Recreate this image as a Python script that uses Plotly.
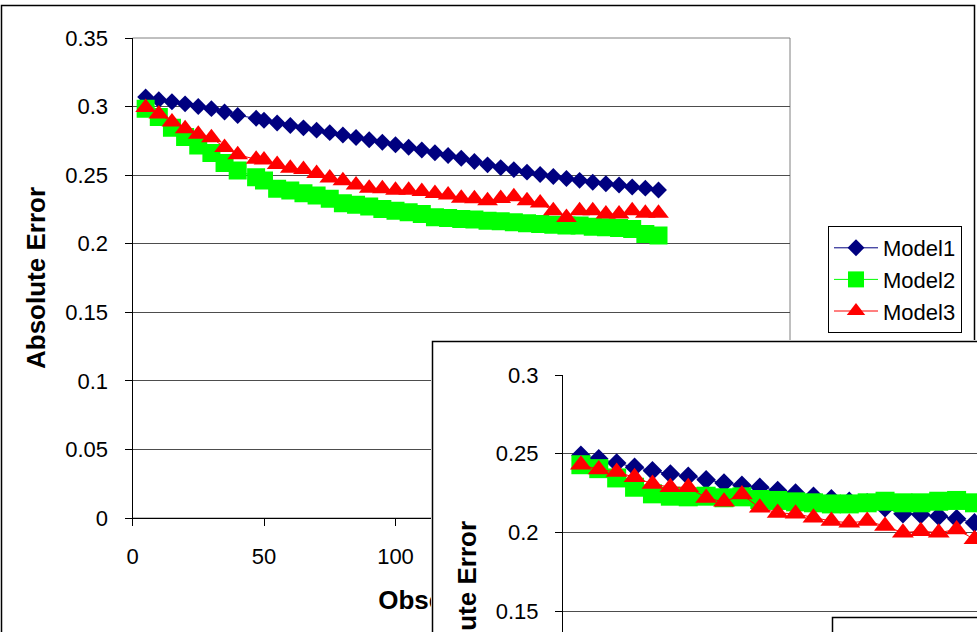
import plotly.graph_objects as go

W, H = 977, 632
FONT = "Liberation Sans, Arial, sans-serif"

# ---------------- data ----------------
series_names = ["Model1", "Model2", "Model3"]

obs_chart1 = [5, 10, 15, 20, 25, 30, 35, 40, 47, 50, 55, 60, 65, 70, 75, 80, 85, 90, 95, 100,
              105, 110, 115, 120, 125, 130, 135, 140, 145, 150, 155, 160, 165, 170, 175, 180,
              185, 190, 195, 200]
model1_chart1 = [0.307, 0.305, 0.3035, 0.302, 0.300, 0.2985, 0.296, 0.2935, 0.2915, 0.290,
                 0.288, 0.2862, 0.2845, 0.2828, 0.281, 0.2793, 0.2775, 0.2758, 0.274, 0.2722,
                 0.2703, 0.2683, 0.2663, 0.2643, 0.2623, 0.2600, 0.2575, 0.2555, 0.254, 0.2522,
                 0.2505, 0.249, 0.2475, 0.2462, 0.2448, 0.2437, 0.2428, 0.2414, 0.2405, 0.2392]
model2_chart1 = [0.2985, 0.2924, 0.2846, 0.2778, 0.2717, 0.2661, 0.2588, 0.2534, 0.2485, 0.2461,
                 0.240, 0.2388, 0.2368, 0.2351, 0.2327, 0.2295, 0.2285, 0.2271, 0.2254, 0.2241,
                 0.2229, 0.2217, 0.2193, 0.2188, 0.218, 0.2176, 0.2168, 0.2163, 0.2156, 0.2149,
                 0.2144, 0.2139, 0.2132, 0.2132, 0.2124, 0.212, 0.2115, 0.2107, 0.2071, 0.2059]
model3_chart1 = [0.2993, 0.2946, 0.2888, 0.2839, 0.2798, 0.2773, 0.2702, 0.2649, 0.2615, 0.261,
                 0.2578, 0.2551, 0.2541, 0.2512, 0.248, 0.2459, 0.2429, 0.2405, 0.240, 0.239,
                 0.239, 0.238, 0.2366, 0.2356, 0.2332, 0.2327, 0.2313, 0.233, 0.2342, 0.2313,
                 0.2296, 0.224, 0.2192, 0.224, 0.224, 0.2216, 0.2216, 0.224, 0.2223, 0.2223]

obs_chart2 = [5, 10, 15, 20, 25, 30, 35, 40, 45, 50, 55, 60, 65, 70, 75, 80, 85, 90, 95, 100,
              105, 110, 115]
model1_chart2 = [0.249, 0.2468, 0.2441, 0.2414, 0.2392, 0.2371, 0.2357, 0.2335, 0.2314, 0.230,
                 0.2287, 0.2266, 0.2251, 0.223, 0.2213, 0.2198, 0.2188, 0.2156, 0.2118, 0.2114,
                 0.2103, 0.2086, 0.2061]
model2_chart2 = [0.243, 0.2405, 0.2346, 0.2287, 0.2245, 0.223, 0.2226, 0.223, 0.222, 0.2226,
                 0.2209, 0.2203, 0.2194, 0.2188, 0.2181, 0.2181, 0.2188, 0.2198, 0.2188, 0.2188,
                 0.2198, 0.2203, 0.2188]
model3_chart2 = [0.243, 0.2399, 0.2384, 0.235, 0.2308, 0.2287, 0.2287, 0.2219, 0.2194, 0.224,
                 0.2156, 0.2124, 0.2118, 0.2093, 0.2072, 0.2061, 0.2072, 0.204, 0.1998, 0.2008,
                 0.1998, 0.2019, 0.1956]

y_title = "Absolute Error"
x_title = "Observations"

# ---------------- styles ----------------
colors = ["#000080", "#00FF00", "#FF0000"]
symbols = ["diamond", "square", "triangle-up"]
sizes_c1 = [13, 18, 18]
sizes_c2 = [15, 19, 19]


def px(x):
    return x / W


def py(y):
    return 1 - y / H


fig = go.Figure()

c1 = [model1_chart1, model2_chart1, model3_chart1]
for i, name in enumerate(series_names):
    fig.add_trace(go.Scatter(
        x=obs_chart1, y=c1[i], name=name, mode="lines+markers",
        line=dict(color=colors[i], width=1),
        marker=dict(symbol=symbols[i], size=sizes_c1[i], color=colors[i], line=dict(width=0)),
        xaxis="x", yaxis="y", legendgroup="g%d" % i,
    ))

# cover subplot (white panel / frame of the second chart)
fig.add_trace(go.Scatter(x=[None], y=[None], xaxis="x2", yaxis="y2",
                         showlegend=False, hoverinfo="skip"))

c2 = [model1_chart2, model2_chart2, model3_chart2]
for i, name in enumerate(series_names):
    fig.add_trace(go.Scatter(
        x=obs_chart2, y=c2[i], name=name, mode="lines+markers",
        line=dict(color=colors[i], width=1),
        marker=dict(symbol=symbols[i], size=sizes_c2[i], color=colors[i], line=dict(width=0)),
        xaxis="x3", yaxis="y3", showlegend=False,
    ))

tickfont = dict(family=FONT, size=22, color="black")
common = dict(showline=True, linecolor="black", linewidth=1, ticks="outside", ticklen=7,
              tickcolor="black", tickwidth=1, tickfont=tickfont, zeroline=False)

# chart 2 y scale (px per unit); its lower part lies below the visible page
c2_top_px, c2_px_per_unit = 375, 78.7 / 0.05
c2_ymin = 0.3 - (H - c2_top_px) / c2_px_per_unit

fig.update_layout(
    width=W, height=H,
    margin=dict(l=0, r=0, t=0, b=0, pad=0, autoexpand=False),
    paper_bgcolor="white", plot_bgcolor="white",
    showlegend=True,
    xaxis=dict(domain=[px(132.5), px(790)], range=[0, 250], dtick=50, tick0=0,
               showgrid=False, anchor="y", ticklabelstandoff=12, **common),
    yaxis=dict(domain=[py(518), py(38)], range=[0, 0.35], dtick=0.05, tick0=0,
               showgrid=True, gridcolor="#4d4d4d", gridwidth=1, anchor="x",
               ticklabelstandoff=12,
               title=dict(text=y_title, font=dict(family=FONT, size=26, color="black", weight="bold"),
                          standoff=12),
               **common),
    xaxis2=dict(domain=[px(431), 1], range=[0, 1], visible=False, anchor="y2", fixedrange=True),
    yaxis2=dict(domain=[0, py(340)], range=[0, 1], visible=False, anchor="x2", fixedrange=True),
    xaxis3=dict(domain=[px(563), 1], range=[0, 115.7], visible=False, anchor="y3"),
    yaxis3=dict(domain=[0, py(c2_top_px)], range=[c2_ymin, 0.3], dtick=0.05, tick0=0,
                showgrid=True, gridcolor="#4d4d4d", gridwidth=1, anchor="x3",
                ticklabelstandoff=12, **common),
    legend=dict(x=px(828), y=py(226), xanchor="left", yanchor="top",
                bordercolor="black", borderwidth=1, bgcolor="white",
                font=dict(family=FONT, size=22, color="black"),
                itemwidth=44, tracegroupgap=0, traceorder="grouped"),
    shapes=[
        # outer frame of chart 1
        dict(type="rect", xref="paper", yref="paper", x0=px(1.5), x1=px(974.5),
             y0=-0.3, y1=py(5.5), line=dict(color="black", width=1.5),
             fillcolor="rgba(0,0,0,0)", layer="below"),
        # plot area border of chart 1
        dict(type="rect", xref="x domain", yref="y domain", x0=0, x1=1, y0=0, y1=1,
             line=dict(color="#808080", width=1), fillcolor="rgba(0,0,0,0)", layer="below"),
        # x-axis title of chart 1 (kept in the lower layer so chart 2 covers it)
        dict(type="line", xref="x domain", yref="y domain", x0=0, x1=1,
             y0=-(598 - 518) / 480, y1=-(598 - 518) / 480,
             line=dict(color="rgba(0,0,0,0)", width=0), layer="below",
             label=dict(text=x_title, textposition="middle", yanchor="middle", padding=0,
                        font=dict(family=FONT, size=26, color="black", weight="bold"))),
        # chart 2 frame (white panel over chart 1)
        dict(type="rect", xref="x2", yref="y2", x0=1.5 / 546, x1=1.2, y0=-0.2,
             y1=1 - 1.5 / 292, line=dict(color="black", width=1.5),
             fillcolor="white", layer="below"),
        # chart 2 legend box (its entries lie below the visible page)
        dict(type="rect", xref="paper", yref="paper", x0=px(832.5), x1=1.1, y0=-0.2,
             y1=py(617.5), line=dict(color="black", width=1.5),
             fillcolor="white", layer="above"),
    ],
    annotations=[
        dict(text="<b>%s</b>" % y_title, xref="paper", yref="paper", x=px(467), y=py(612),
             xanchor="center", yanchor="middle", textangle=-90, showarrow=False,
             font=dict(family=FONT, size=26, color="black")),
    ],
)

fig.write_html("out.html")
